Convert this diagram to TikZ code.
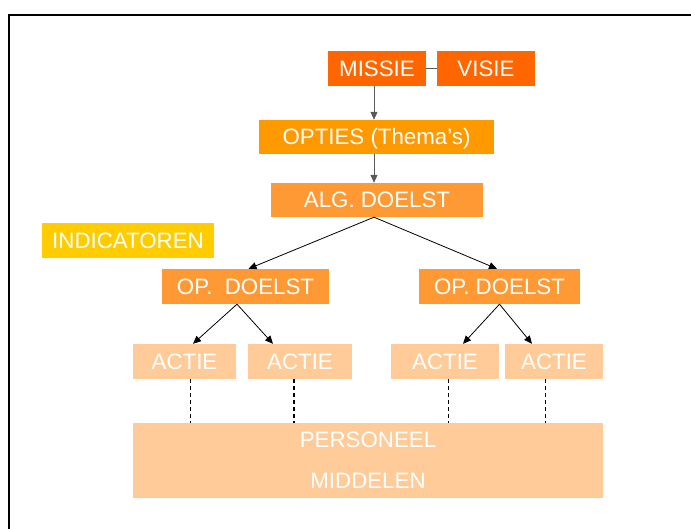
\documentclass[tikz,border=0pt]{standalone}
\usepackage{fontspec}
\setmainfont{Liberation Sans}
\usetikzlibrary{arrows.meta}
\definecolor{cMis}{HTML}{FF6600}
\definecolor{cOpt}{HTML}{FF9900}
\definecolor{cDoel}{HTML}{FF9933}
\definecolor{cInd}{HTML}{FFCC00}
\definecolor{cAct}{HTML}{FFCC99}
\tikzset{
  box/.style={rectangle, inner sep=0pt, text=white, font=\fontsize{22.3}{26}\selectfont,
    text height=15.9pt, text depth=0pt},
  arr/.style={-{Triangle[length=8pt,width=7pt]}, line width=0.8pt},
  dsh/.style={dash pattern=on 4pt off 3pt, line width=1pt},
}
\begin{document}
\begin{tikzpicture}[x=1pt,y=-1pt]
\useasboundingbox (0,0) rectangle (691,529);
\fill[white] (0,0) rectangle (691,529);
\draw[line width=2pt] (9,529) -- (9,15.5) -- (691,15.5);

\node[box, fill=cMis, minimum width=98pt, minimum height=35pt] (missie) at (377,68.5) {MISSIE};
\node[box, fill=cMis, minimum width=98pt, minimum height=35pt] (visie) at (486,68.5) {VISIE};
\node[box, fill=cOpt, minimum width=235pt, minimum height=34pt] (opties) at (376.5,137) {OPTIES (Thema's)};
\node[box, fill=cDoel, minimum width=212pt, minimum height=34pt] (alg) at (377,200) {ALG. DOELST};
\node[box, fill=cInd, minimum width=172pt, minimum height=35pt] (ind) at (128,240.5) {INDICATOREN};
\node[box, fill=cDoel, minimum width=167pt, minimum height=35pt] (opl) at (245.5,286.5) {OP.~~DOELST};
\node[box, fill=cDoel, minimum width=161pt, minimum height=35pt] (opr) at (499.5,286.5) {OP. DOELST};
\node[box, fill=cAct, minimum width=103pt, minimum height=35pt] (a1) at (184.5,361.5) {ACTIE};
\node[box, fill=cAct, minimum width=104pt, minimum height=35pt] (a2) at (300,361.5) {ACTIE};
\node[box, fill=cAct, minimum width=108pt, minimum height=35pt] (a3) at (445,361.5) {ACTIE};
\node[box, fill=cAct, minimum width=98pt, minimum height=35pt] (a4) at (554,361.5) {ACTIE};
\node[box, fill=cAct, minimum width=470pt, minimum height=75pt, align=center,
      text height=, text depth=,
      font=\fontsize{22.3}{41}\selectfont] (pers) at (368,460.5) {PERSONEEL\\MIDDELEN};

\draw[gray!70!black, line width=1pt] (missie.east) -- (visie.west);
\draw[arr, gray!70!black] ([xshift=-3pt]missie.south) -- ([xshift=-2.5pt]opties.north);
\draw[arr, gray!70!black] ([xshift=-2.5pt]opties.south) -- ([xshift=-3pt]alg.north);
\draw[arr] ([xshift=-3pt]alg.south) -- ([xshift=3pt]opl.north);
\draw[arr] ([xshift=-3pt]alg.south) -- ([xshift=-2.5pt]opr.north);
\draw[arr] ([xshift=-8.5pt]opl.south) -- ([xshift=8.5pt]a1.north);
\draw[arr] ([xshift=-8.5pt]opl.south) -- ([xshift=-27pt]a2.north);
\draw[arr] (opr.south) -- ([xshift=18pt]a3.north);
\draw[arr] (opr.south) -- ([xshift=-22pt]a4.north);

\draw[dsh] (a1.south -| 190.3,0) -- (pers.north -| 190.3,0);
\draw[dsh, line width=2pt] (a2.south -| 293.7,0) -- (pers.north -| 293.7,0);
\draw[dsh] (a3.south -| 448.7,0) -- (pers.north -| 448.7,0);
\draw[dsh] (a4.south -| 545.3,0) -- (pers.north -| 545.3,0);
\end{tikzpicture}
\end{document}
